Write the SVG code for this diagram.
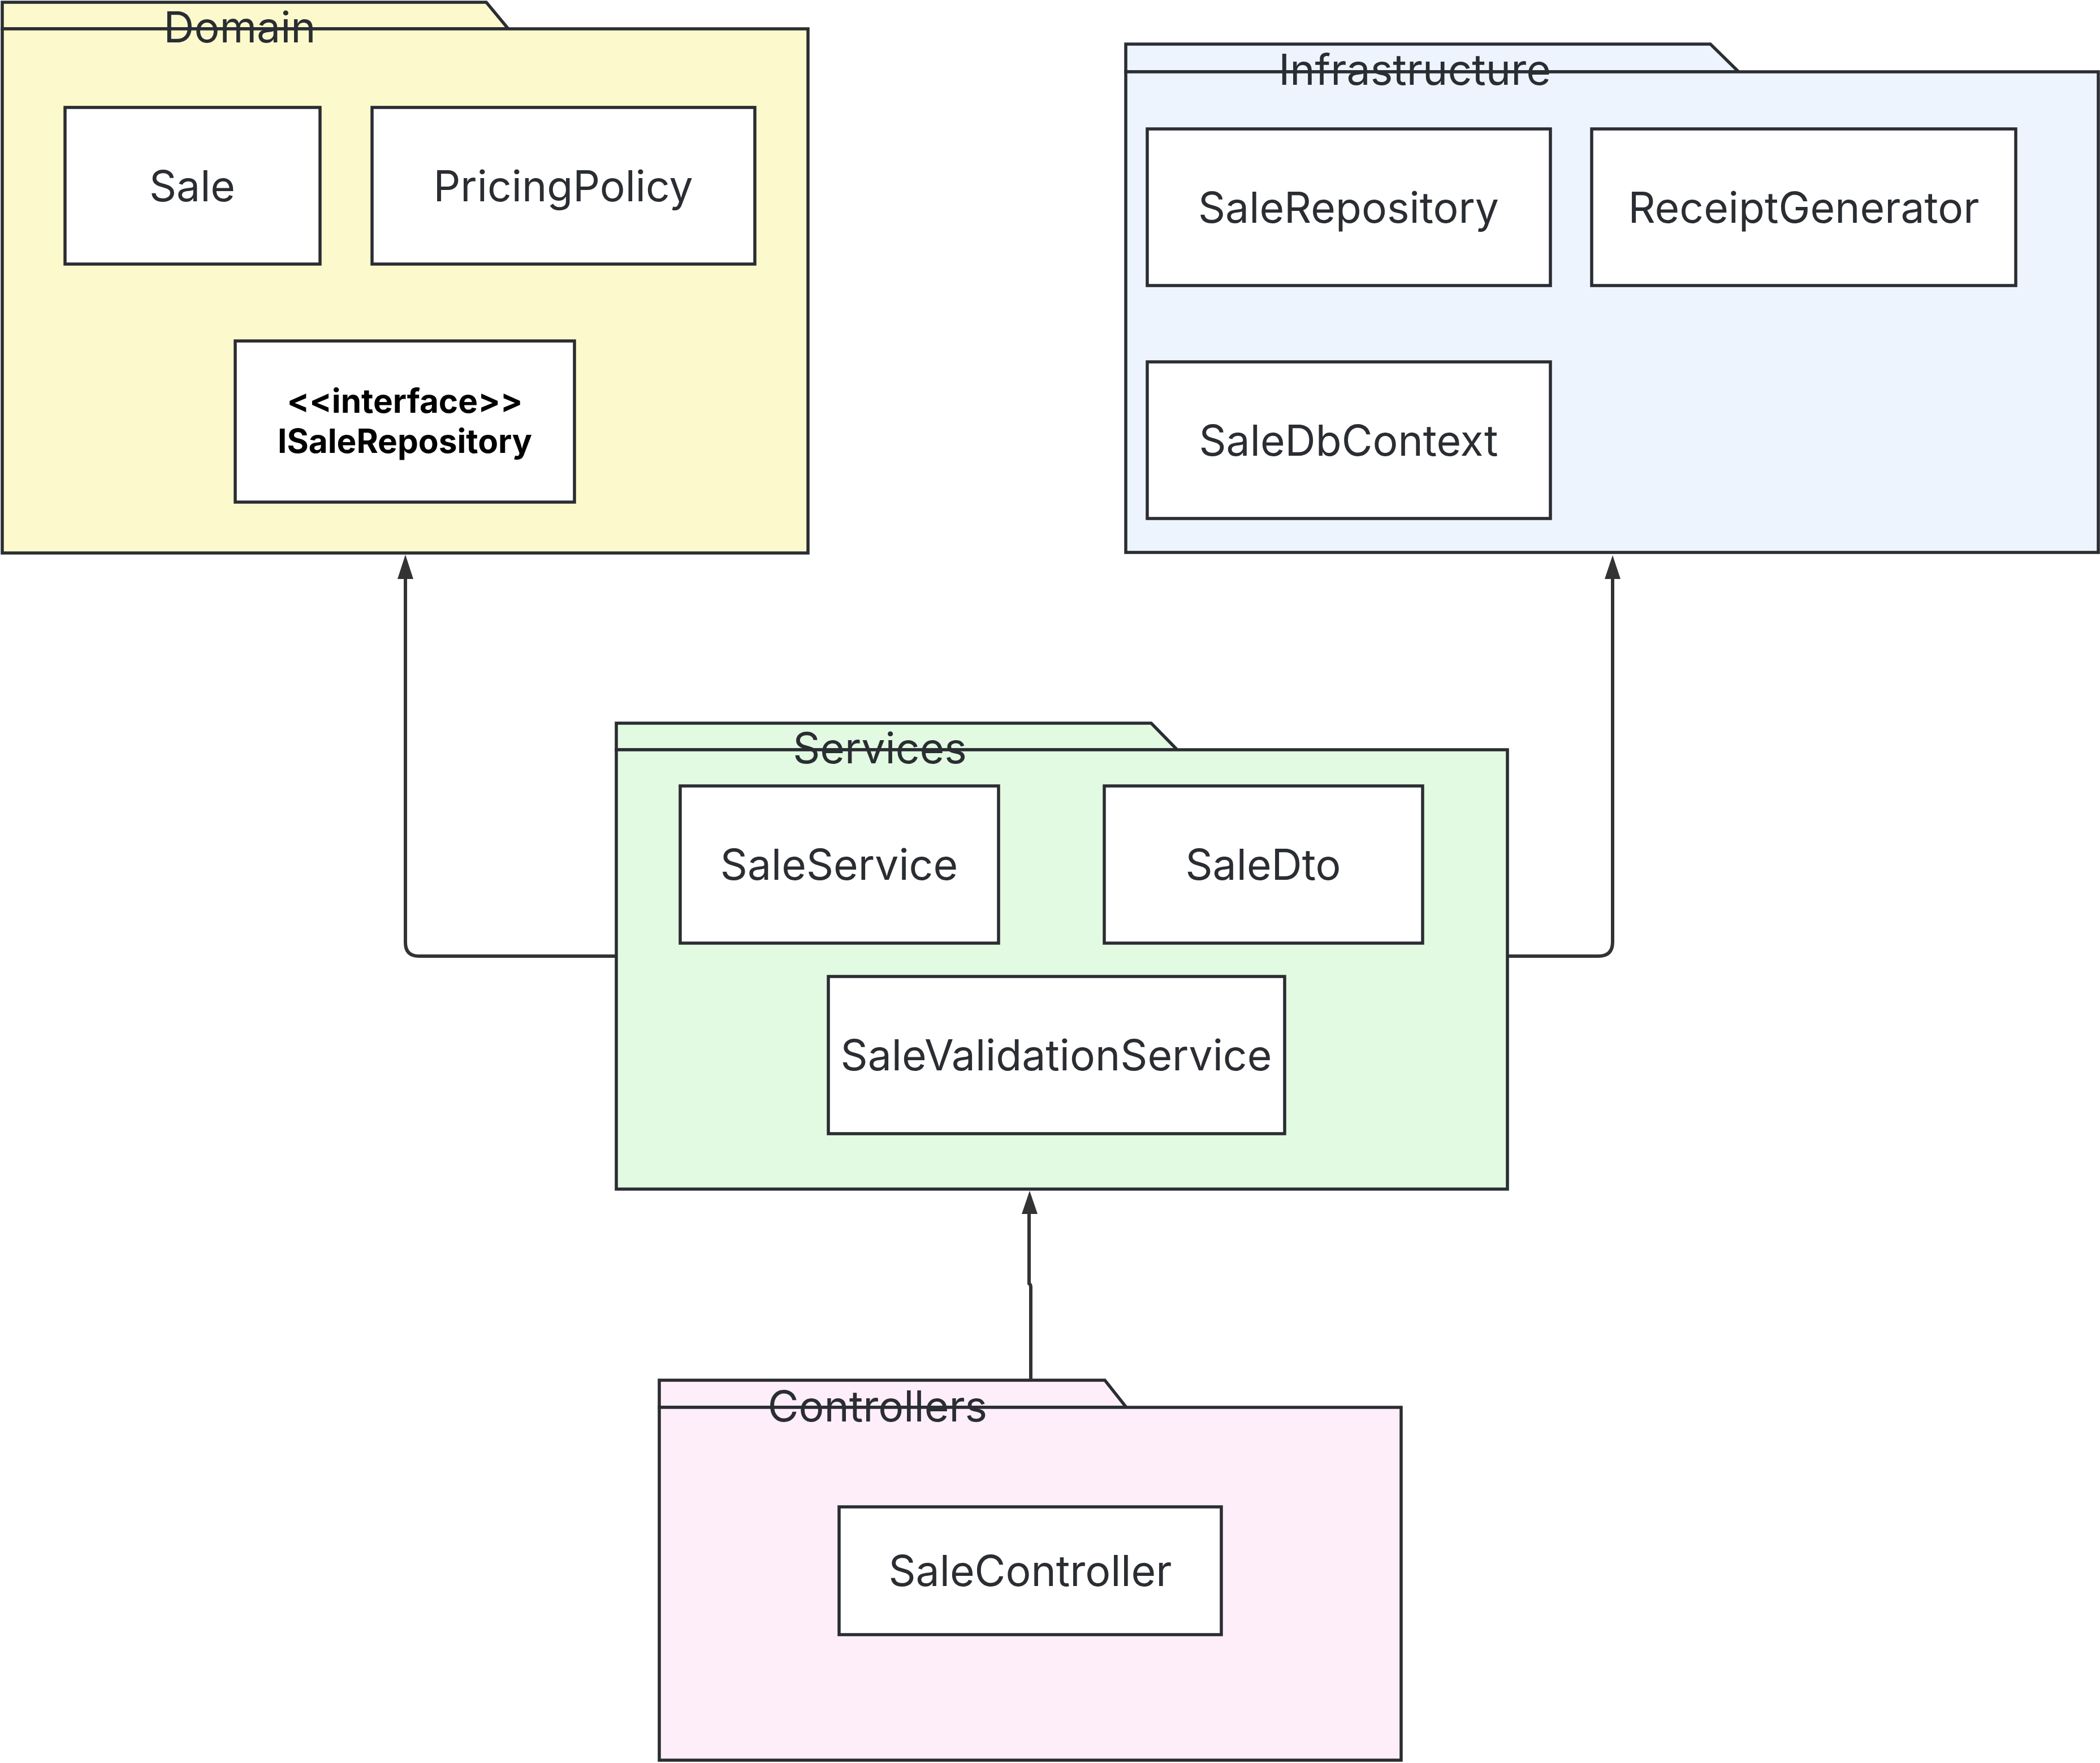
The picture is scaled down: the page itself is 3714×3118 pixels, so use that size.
<svg xmlns="http://www.w3.org/2000/svg" width="3714" height="3118" viewBox="0 0 3714 3118">
  <style>
    .pkg { stroke: #2a2d32; stroke-width: 5.5; stroke-linejoin: miter; }
    .domain { fill: #fcfacc; }
    .infra { fill: #edf4fe; }
    .services { fill: #e2f9e2; }
    .controllers { fill: #fdeefa; }
    .box { fill: #ffffff; stroke: #2a2d32; stroke-width: 5.5; }
    .pkg-label { font-family: Inter, "Liberation Sans", sans-serif; font-size: 75px; fill: #2a2d32; text-anchor: middle; }
    .cls { font-family: Inter, "Liberation Sans", sans-serif; font-size: 75px; fill: #2a2d32; text-anchor: middle; }
    .cls-bold { font-family: Inter, "Liberation Sans", sans-serif; font-size: 58.5px; font-weight: 700; fill: #000000; text-anchor: middle; }
    .edge { fill: none; stroke: #333333; stroke-width: 6; }
    .head { fill: #333333; }
  </style>

  <rect width="3714" height="3118" fill="#ffffff"/>

  <!-- Domain package -->
  <g id="domain">
    <path class="pkg domain" d="M4 4 H860 L899 51 H4 Z"/>
    <rect class="pkg domain" x="4" y="51" width="1425" height="927"/>
    <text class="pkg-label" x="424" y="75">Domain</text>
    <g id="sale">
      <rect class="box" x="115" y="190" width="451" height="277"/>
      <text class="cls" x="340" y="356">Sale</text>
    </g>
    <g id="pricing-policy">
      <rect class="box" x="658" y="190" width="677" height="277"/>
      <text class="cls" x="996" y="356">PricingPolicy</text>
    </g>
    <g id="isale-repository">
      <rect class="box" x="416" y="603" width="600" height="285"/>
      <text class="cls-bold" x="716" y="730">&lt;&lt;interface&gt;&gt;</text>
      <text class="cls-bold" x="716" y="801">ISaleRepository</text>
    </g>
  </g>

  <!-- Infrastructure package -->
  <g id="infrastructure">
    <path class="pkg infra" d="M1991 78 H3025 L3075 127 H1991 Z"/>
    <rect class="pkg infra" x="1991" y="127" width="1720" height="850"/>
    <text class="pkg-label" x="2502" y="150">Infrastructure</text>
    <g id="sale-repository">
      <rect class="box" x="2029" y="228" width="713" height="277"/>
      <text class="cls" x="2385" y="394">SaleRepository</text>
    </g>
    <g id="receipt-generator">
      <rect class="box" x="2815" y="228" width="750" height="277"/>
      <text class="cls" x="3190" y="394">ReceiptGenerator</text>
    </g>
    <g id="sale-db-context">
      <rect class="box" x="2029" y="640" width="713" height="277"/>
      <text class="cls" x="2385" y="806">SaleDbContext</text>
    </g>
  </g>

  <!-- Services package -->
  <g id="services">
    <path class="pkg services" d="M1090 1279 H2036 L2082 1326 H1090 Z"/>
    <rect class="pkg services" x="1090" y="1326" width="1576" height="777"/>
    <text class="pkg-label" x="1556" y="1350">Services</text>
    <g id="sale-service">
      <rect class="box" x="1203" y="1390" width="563" height="278"/>
      <text class="cls" x="1484" y="1556">SaleService</text>
    </g>
    <g id="sale-dto">
      <rect class="box" x="1953" y="1390" width="563" height="278"/>
      <text class="cls" x="2234" y="1556">SaleDto</text>
    </g>
    <g id="sale-validation-service">
      <rect class="box" x="1465" y="1727" width="807" height="278"/>
      <text class="cls" x="1868" y="1893">SaleValidationService</text>
    </g>
  </g>

  <!-- Controllers package -->
  <g id="controllers">
    <path class="pkg controllers" d="M1166 2441 H1954 L1992 2489 H1166 Z"/>
    <rect class="pkg controllers" x="1166" y="2489" width="1312" height="624"/>
    <text class="pkg-label" x="1552" y="2514">Controllers</text>
    <g id="sale-controller">
      <rect class="box" x="1484" y="2665" width="676" height="226"/>
      <text class="cls" x="1822" y="2805">SaleController</text>
    </g>
  </g>

  <!-- Dependencies between packages -->
  <g id="connectors">
    <path class="edge" d="M1088 1691 H741 Q717 1691 717 1667 V1020"/>
    <path class="head" d="M717 981 L731 1024 H703 Z"/>

    <path class="edge" d="M2668 1691 H2827 Q2852 1691 2852 1666 V1020"/>
    <path class="head" d="M2852 982 L2866 1024 H2838 Z"/>

    <path class="edge" d="M1823 2441 V2276 Q1823 2272 1820 2270 V2142"/>
    <path class="head" d="M1821 2106 L1835 2147 H1807 Z"/>
  </g>
</svg>
